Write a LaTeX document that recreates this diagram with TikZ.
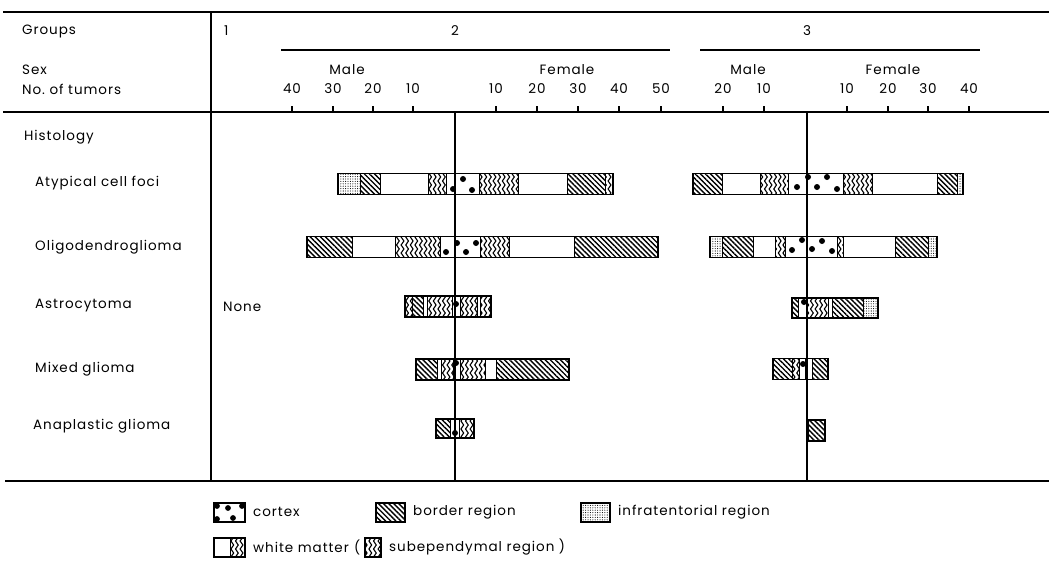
\documentclass[tikz,border=0pt]{standalone}
\usepackage{fontspec}
\setmainfont{Poppins}[LetterSpace=7]
\usetikzlibrary{patterns,patterns.meta}
\pgfdeclarepatternformonly{wavylines}{\pgfpoint{-1pt}{-1pt}}{\pgfpoint{6pt}{9pt}}{\pgfpoint{4.6pt}{8pt}}{%
  \pgfsetlinewidth{1.1pt}%
  \pgfpathmoveto{\pgfpoint{2.3pt}{0pt}}%
  \pgfpathcurveto{\pgfpoint{4.1pt}{1.3pt}}{\pgfpoint{4.1pt}{2.7pt}}{\pgfpoint{2.3pt}{4pt}}%
  \pgfpathcurveto{\pgfpoint{0.5pt}{5.3pt}}{\pgfpoint{0.5pt}{6.7pt}}{\pgfpoint{2.3pt}{8pt}}%
  \pgfusepath{stroke}}
\newcommand\labfont{\fontsize{13.5}{15}\selectfont}
\begin{document}
\begin{tikzpicture}[x=1pt,y=-1pt,
  seg/.style={draw=black,line width=1pt},
  brd/.style={seg,pattern={Lines[angle=-45,distance=3.6pt,line width=1.4pt]}},
  wav/.style={seg,pattern=wavylines},
  inf/.style={seg,pattern={Dots[distance=2.4pt,radius=0.55pt]}},
  wht/.style={seg,fill=white},
  ctx/.style={seg,fill=white},
  outline/.style={draw=black,line width=1.6pt},
  rule/.style={line width=2pt},
  thinrule/.style={line width=1.4pt},
  cline/.style={line width=1.2pt},
  lbl/.style={anchor=west,inner sep=0pt,font=\labfont},
  ctr/.style={anchor=center,inner sep=0pt,font=\labfont},
  dotc/.style={fill=black}]
\useasboundingbox (0,0) rectangle (1049,563);
\fill[white] (0,0) rectangle (1049,563);
% frame lines
\draw[rule] (3,12) -- (1049,12);
\draw[thinrule] (3,112) -- (1049,112);
\draw[rule] (5,481) -- (1049,481);
\draw[thinrule] (211,12) -- (211,481);
% header
\node[lbl] (groups) at (22,31) {Groups};
\node[lbl] (gone) at (224,31) {1};
\node[ctr] (gtwo) at (455,31) {2};
\node[ctr] (gthree) at (807,31) {3};
\draw[rule] (281,50) -- (670,50);
\draw[rule] (700,50) -- (980,50);
\node[lbl] (sex) at (22,70) {Sex};
\node[lbl] (notum) at (22,89) {No.\ of tumors};
\node[ctr] (m2) at (347,70) {Male};
\node[ctr] (f2) at (567,70) {Female};
\node[ctr] (m3) at (748,70) {Male};
\node[ctr] (f3) at (893,70) {Female};
\foreach \x/\t [count=\i] in {292/40,333/30,373/20,413/10,496/10,537/20,578/30,619/40,661/50,723/20,764/10,847/10,888/20,928/30,969/40} {
  \node[ctr] (tick\i) at (\x,89) {\t};
  \draw[line width=1.3pt] (\x,112) -- (\x,106);
}
% row labels
\node[lbl] (hist) at (24,137) {Histology};
\node[lbl] (atyp) at (35,183) {Atypical cell foci};
\node[lbl] (oligo) at (35,247) {Oligodendroglioma};
\node[lbl] (astro) at (35,306) {Astrocytoma};
\node[lbl] (mixed) at (35,369) {Mixed glioma};
\node[lbl] (anap) at (33,426) {Anaplastic glioma};
\node[lbl] (none) at (223,307) {None};
% ---- group 2 bars
\foreach \a/\b/\s in {338/360/inf,360/380/brd,380/428/wht,428/446/wav,446/479/ctx,479/518/wav,518/567/wht,567/605/brd,605/613/wav}
  {\draw[\s] (\a,173.5) rectangle (\b,194.5);}
\draw[outline] (338,173.5) rectangle (613,194.5);
\foreach \a/\b/\s in {307/352/brd,352/395/wht,395/440/wav,440/480/ctx,480/509/wav,509/574/wht,574/658/brd}
  {\draw[\s] (\a,236.5) rectangle (\b,257.5);}
\draw[outline] (307,236.5) rectangle (658,257.5);
\foreach \a/\b/\s in {405/412/wav,412/423/brd,423/427/wht,427/452/wav,452/460/ctx,460/477/wav,477/480/wht,480/491/wav}
  {\draw[\s] (\a,296) rectangle (\b,317);}
\draw[outline] (405,296) rectangle (491,317);
\foreach \a/\b/\s in {416/437/brd,437/441/wht,441/453/wav,453/460/ctx,460/485/wav,485/496/wht,496/569/brd}
  {\draw[\s] (\a,359) rectangle (\b,380);}
\draw[outline] (416,359) rectangle (569,380);
\foreach \a/\b/\s in {436/450/brd,450/459/ctx,459/474/wav}
  {\draw[\s] (\a,419) rectangle (\b,438);}
\draw[outline] (436,419) rectangle (474,438);
% ---- group 3 bars
\foreach \a/\b/\s in {693/722/brd,722/760/wht,760/788/wav,788/843/ctx,843/872/wav,872/937/wht,937/957/brd,957/963/inf}
  {\draw[\s] (\a,173.5) rectangle (\b,194.5);}
\draw[outline] (693,173.5) rectangle (963,194.5);
\foreach \a/\b/\s in {710/722/inf,722/753/brd,753/775/wht,775/785/wav,785/837/ctx,837/843/wav,843/895/wht,895/928/brd,928/937/inf}
  {\draw[\s] (\a,236.5) rectangle (\b,257.5);}
\draw[outline] (710,236.5) rectangle (937,257.5);
\foreach \a/\b/\s in {792/798/brd,798/806/ctx,806/828/wav,828/832/wht,832/863/brd,863/878/inf}
  {\draw[\s] (\a,298) rectangle (\b,318);}
\draw[outline] (792,298) rectangle (878,318);
\foreach \a/\b/\s in {773/792/brd,792/799/wav,799/805/ctx,805/812/wht,812/828/brd}
  {\draw[\s] (\a,358.5) rectangle (\b,379.5);}
\draw[outline] (773,358.5) rectangle (828,379.5);
\draw[brd] (808,420) rectangle (825,441);
\draw[outline] (808,420) rectangle (825,441);
% cortex dots
\foreach \x/\y in {453/189,463/179,472/190,446/252,457/243,466/252,476/243,456/304,456/363,455/433,
  797/187,808/177,817/187,827/177,837/189,792/250,802/240,812/249,822/241,832/251,804/302,803/364}
  {\fill[dotc] (\x,\y) circle (3pt);}
% centre lines
\draw[cline] (455,112) -- (455,481);
\draw[cline] (807,112) -- (807,481);
% legend
\draw[ctx,line width=1.6pt] (214,503) rectangle (245,522);
\foreach \x/\y in {217/506,228/508,242/506,217/519,233/518} {\fill[dotc] (\x,\y) circle (2.9pt);}
\node[lbl] (lcortex) at (253,512) {cortex};
\draw[brd] (376,503) rectangle (405,522);
\draw[outline] (376,503) rectangle (405,522);
\node[lbl] (lborder) at (413,512) {border region};
\draw[inf] (581,503) rectangle (610,522);
\draw[outline] (581,503) rectangle (610,522);
\node[lbl] (linfra) at (618,512) {infratentorial region};
\draw[wht] (214,538) rectangle (230,557);
\draw[wav] (230,538) rectangle (245,557);
\draw[outline] (214,538) rectangle (245,557);
\node[lbl] (lwhite) at (253,547) {white matter};
\node[lbl] (lparen) at (354,547) {(};
\draw[wav] (365,538) rectangle (381,557);
\draw[outline] (365,538) rectangle (381,557);
\node[lbl] (lsub) at (389,547) {subependymal region )};
\end{tikzpicture}
\end{document}
